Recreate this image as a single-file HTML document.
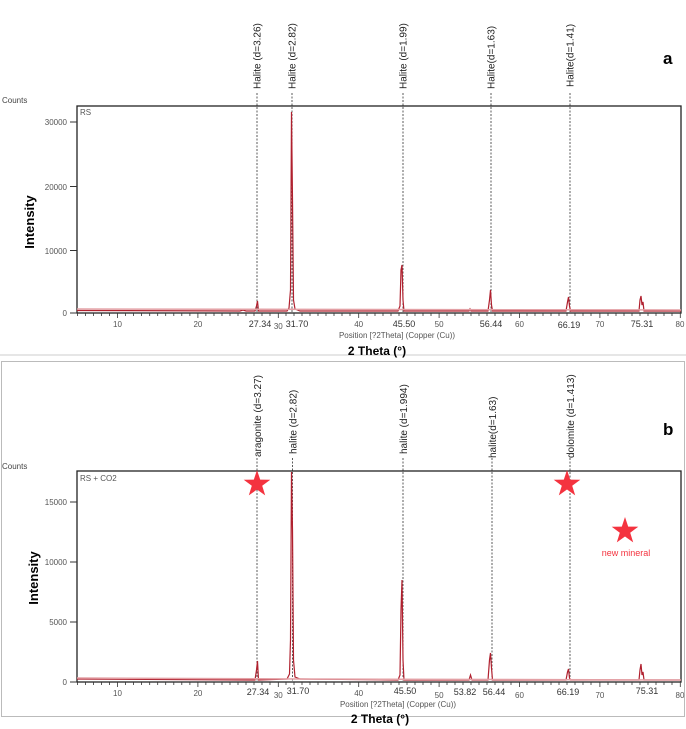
<!DOCTYPE html>
<html><head><meta charset="utf-8"><style>
html,body{margin:0;padding:0;background:#fff;width:686px;height:729px;overflow:hidden}
svg{display:block}
</style></head><body>
<svg width="686" height="729" viewBox="0 0 686 729" xmlns="http://www.w3.org/2000/svg" font-family="Liberation Sans, sans-serif">
<line x1="0" y1="355" x2="686" y2="355" stroke="#ccc" stroke-width="1"/>
<rect x="1.5" y="361.5" width="683" height="355" fill="none" stroke="#bbb" stroke-width="1"/>

<!-- ===== TOP PANEL ===== -->
<text x="663" y="64" font-size="17" font-weight="bold">a</text>
<text x="2" y="103" font-size="8" fill="#444">Counts</text>
<rect x="77" y="106" width="604" height="207" fill="none" stroke="#222" stroke-width="1.3"/>
<text x="80" y="115" font-size="8" fill="#555">RS</text>
<g font-size="8" fill="#555" text-anchor="end">
<text x="67" y="125">30000</text><text x="67" y="190">20000</text><text x="67" y="254">10000</text><text x="67" y="316">0</text>
</g>
<g stroke="#333" stroke-width="1">
<line x1="70" y1="122" x2="77" y2="122"/><line x1="70" y1="186.5" x2="77" y2="186.5"/><line x1="70" y1="250.5" x2="77" y2="250.5"/><line x1="70" y1="313" x2="77" y2="313"/>
</g>
<text transform="translate(34,222) rotate(-90)" font-size="13" font-weight="bold" text-anchor="middle">Intensity</text>
<g stroke="#333" stroke-width="0.8" id="xt1">
<path d="M77.5,313v3M85.5,313v3M93.6,313v3M101.6,313v3M109.6,313v3M117.5,313v5M125.5,313v3M133.6,313v3M141.6,313v3M149.7,313v3M157.7,313v3M165.7,313v3M173.8,313v3M181.8,313v3M189.9,313v3M197.9,313v5M205.9,313v3M214,313v3M222,313v3M230,313v3M238,313v3M246,313v3M254,313v3M262,313v3M270,313v3M278.3,313v5M286,313v3M294,313v3M302,313v3M310,313v3M318,313v3M326,313v3M334,313v3M342,313v3M350,313v3M358.7,313v5M367,313v3M375,313v3M383,313v3M391,313v3M399,313v3M407,313v3M415,313v3M423,313v3M431,313v3M439.1,313v5M447,313v3M455,313v3M463,313v3M471,313v3M479,313v3M487,313v3M495,313v3M503,313v3M511,313v3M519.5,313v5M527,313v3M535,313v3M543,313v3M551,313v3M559,313v3M567,313v3M575,313v3M583,313v3M591,313v3M599.9,313v5M608,313v3M616,313v3M624,313v3M632,313v3M640,313v3M648,313v3M656,313v3M664,313v3M672,313v3M680.3,313v5"/>
</g>
<g font-size="8" fill="#555" text-anchor="middle">
<text x="117.5" y="327">10</text><text x="197.9" y="327">20</text><text x="278.3" y="329">30</text><text x="358.7" y="327">40</text><text x="439.1" y="327">50</text><text x="519.5" y="327">60</text><text x="599.9" y="327">70</text><text x="680" y="327">80</text>
</g>
<g font-size="9" fill="#333" text-anchor="middle">
<text x="260" y="327">27.34</text><text x="297" y="327">31.70</text><text x="404" y="327">45.50</text><text x="491" y="327">56.44</text><text x="569" y="328">66.19</text><text x="642" y="327">75.31</text>
</g>
<text x="397" y="338" font-size="8" fill="#555" text-anchor="middle">Position [?2Theta] (Copper (Cu))</text>
<text x="377" y="355" font-size="12" font-weight="bold" text-anchor="middle">2 Theta (°)</text>
<g stroke="#333" stroke-width="0.8" stroke-dasharray="2,1.5">
<line x1="257" y1="93" x2="257" y2="313"/><line x1="292" y1="93" x2="292" y2="313"/><line x1="403" y1="93" x2="403" y2="313"/><line x1="491" y1="93" x2="491" y2="313"/><line x1="570" y1="93" x2="570" y2="313"/>
</g>
<g font-size="10" fill="#222">
<text transform="translate(260.5,89) rotate(-90)">Halite (d=3.26)</text>
<text transform="translate(295.5,89) rotate(-90)">Halite (d=2.82)</text>
<text transform="translate(406.5,89) rotate(-90)">Halite (d=1.99)</text>
<text transform="translate(494.5,89) rotate(-90)">Halite(d=1.63)</text>
<text transform="translate(573.5,87) rotate(-90)">Halite(d=1.41)</text>
</g>
<path d="M77,310.5 L240,311 L243,310 L246,311 L255,311 L256.5,306 L257.5,301 L258.5,311 L287,311 L289,308 L290.5,290 L291.5,112 L292.5,200 L293.5,300 L295,309 L300,311 L398,311 L400,306 L401,270 L402,265 L403,300 L404,311 L469,311 L470,309 L471,311 L488,311 L489.5,300 L490.5,290 L491.5,305 L492.5,311 L566,311 L567.5,302 L568.5,297 L569.5,306 L570.5,311 L639,311 L640,300 L641,296 L642,305 L643,302 L644,311 L681,311" fill="none" stroke="#b0202e" stroke-width="1.2"/>
<path d="M77,309 L681,310" stroke="#e3a0a5" stroke-width="1.5" fill="none"/>

<!-- ===== BOTTOM PANEL ===== -->
<text x="663" y="435" font-size="17" font-weight="bold">b</text>
<text x="2" y="469" font-size="8" fill="#444">Counts</text>
<rect x="77" y="471" width="604" height="211" fill="none" stroke="#222" stroke-width="1.3"/>
<text x="80" y="481" font-size="8" fill="#555">RS + CO2</text>
<g font-size="8" fill="#555" text-anchor="end">
<text x="67" y="505">15000</text><text x="67" y="565">10000</text><text x="67" y="625">5000</text><text x="67" y="685">0</text>
</g>
<g stroke="#333" stroke-width="1">
<line x1="70" y1="502" x2="77" y2="502"/><line x1="70" y1="562" x2="77" y2="562"/><line x1="70" y1="622" x2="77" y2="622"/><line x1="70" y1="682" x2="77" y2="682"/>
</g>
<text transform="translate(38,578) rotate(-90)" font-size="13" font-weight="bold" text-anchor="middle">Intensity</text>
<use href="#xt1" transform="translate(0,369)"/>
<g font-size="8" fill="#555" text-anchor="middle">
<text x="117.5" y="696">10</text><text x="197.9" y="696">20</text><text x="278.3" y="698">30</text><text x="358.7" y="696">40</text><text x="439.1" y="698">50</text><text x="519.5" y="698">60</text><text x="599.9" y="698">70</text><text x="680" y="698">80</text>
</g>
<g font-size="9" fill="#333" text-anchor="middle">
<text x="258" y="695">27.34</text><text x="298" y="694">31.70</text><text x="405" y="694">45.50</text><text x="465" y="695">53.82</text><text x="494" y="695">56.44</text><text x="568" y="695">66.19</text><text x="647" y="694">75.31</text>
</g>
<text x="398" y="707" font-size="8" fill="#555" text-anchor="middle">Position [?2Theta] (Copper (Cu))</text>
<text x="380" y="723" font-size="12" font-weight="bold" text-anchor="middle">2 Theta (°)</text>
<g stroke="#333" stroke-width="0.8" stroke-dasharray="2,1.5">
<line x1="257" y1="458" x2="257" y2="682"/><line x1="292.5" y1="458" x2="292.5" y2="682"/><line x1="403" y1="458" x2="403" y2="682"/><line x1="492" y1="458" x2="492" y2="682"/><line x1="570" y1="458" x2="570" y2="682"/>
</g>
<g font-size="10" fill="#222">
<text transform="translate(261,457) rotate(-90)">aragonite (d=3.27)</text>
<text transform="translate(296.5,454) rotate(-90)">halite (d=2.82)</text>
<text transform="translate(407,454) rotate(-90)">halite (d=1.994)</text>
<text transform="translate(496,458) rotate(-90)">halite(d=1.63)</text>
<text transform="translate(574,458) rotate(-90)">dolomite (d=1.413)</text>
</g>
<path d="M77,679 L250,680 L255,680 L256.5,670 L257.5,661 L258.5,680 L287,679 L289.5,674 L290.5,640 L291.5,472 L292.5,530 L293.5,660 L295,677 L300,679 L398,680 L400,675 L401,610 L402,580 L403,660 L404,680 L469,680 L470.5,675 L472,680 L488,680 L489.5,660 L490.5,653 L491.5,668 L492.5,680 L566,680 L567.5,672 L568.5,669 L569.5,678 L570.5,680 L639,680 L640,670 L641,664 L642,675 L643,672 L644,680 L681,680" fill="none" stroke="#b0202e" stroke-width="1.2"/>
<path d="M77,678 L300,679 L681,680" stroke="#e3a0a5" stroke-width="1.5" fill="none"/>
<g fill="#f4333f">
<polygon points="257,470 260.2,479.6 270.3,479.7 262.2,485.8 265.2,495.4 257,489.5 248.8,495.4 251.8,485.8 243.7,479.7 253.8,479.6"/>
<polygon points="567,470 570.2,479.6 580.3,479.7 572.2,485.8 575.2,495.4 567,489.5 558.8,495.4 561.8,485.8 553.7,479.7 563.8,479.6"/>
<polygon points="625,517 628.2,526.6 638.3,526.7 630.2,532.8 633.2,542.4 625,536.5 616.8,542.4 619.8,532.8 611.7,526.7 621.8,526.6"/>
</g>
<text x="626" y="556" font-size="9" fill="#f4333f" text-anchor="middle">new mineral</text>
</svg>
</body></html>
